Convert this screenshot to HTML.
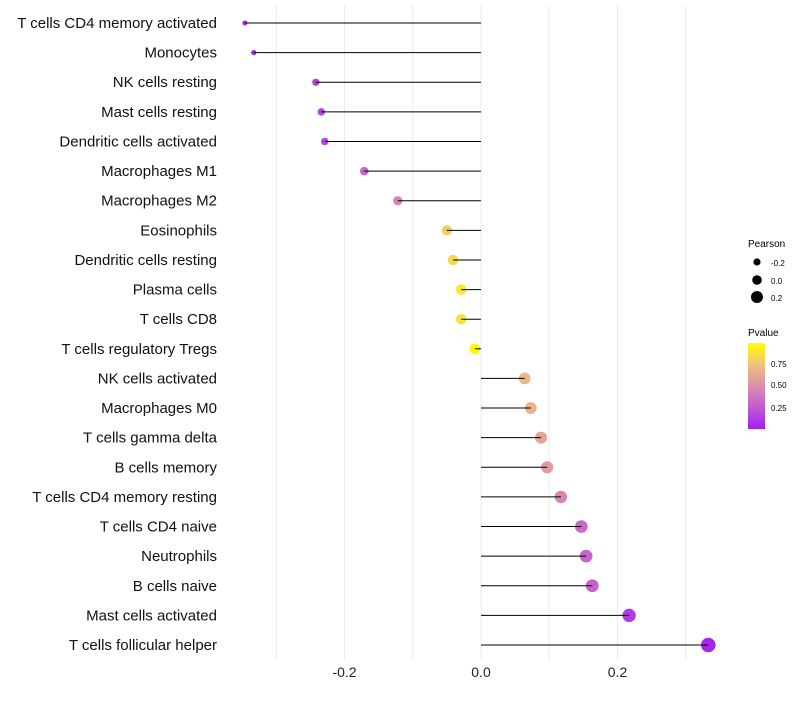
<!DOCTYPE html>
<html><head><meta charset="utf-8"><style>
body{margin:0;background:#fff;font-family:"Liberation Sans",sans-serif}
</style></head><body>
<svg id="chart" width="800" height="700" xmlns="http://www.w3.org/2000/svg" font-family="Liberation Sans, sans-serif">
<g id="grid"></g>
<g id="marks"></g>
<g id="ylabels"></g>
<g id="xlabels"></g>
<g>
<text x="748" y="247" font-size="10">Pearson</text>
<circle cx="757" cy="262" r="3.6" fill="#000"/>
<text x="771" y="266" font-size="8">-0.2</text>
<circle cx="757" cy="280" r="4.8" fill="#000"/>
<text x="771" y="284" font-size="8">0.0</text>
<circle cx="757" cy="297" r="6" fill="#000"/>
<text x="771" y="301" font-size="8">0.2</text>
</g>
<g>
<defs><linearGradient id="pg" x1="0" y1="1" x2="0" y2="0">
<stop offset="0" stop-color="#a020f0"/><stop offset="0.25" stop-color="#c25ad2"/><stop offset="0.5" stop-color="#dc8fab"/><stop offset="0.75" stop-color="#f0c27c"/><stop offset="1" stop-color="#ffff00"/></linearGradient></defs>
<text x="748" y="336" font-size="10">Pvalue</text>
<rect x="748" y="343" width="17" height="86" fill="url(#pg)"/>
<text x="771" y="367" font-size="8">0.75</text>
<text x="771" y="388" font-size="8">0.50</text>
<text x="771" y="411" font-size="8">0.25</text>
</g>
</svg>
<script>
const categories=["T cells CD4 memory activated","Monocytes","NK cells resting","Mast cells resting","Dendritic cells activated","Macrophages M1","Macrophages M2","Eosinophils","Dendritic cells resting","Plasma cells","T cells CD8","T cells regulatory  Tregs ","NK cells activated","Macrophages M0","T cells gamma delta","B cells memory","T cells CD4 memory resting","T cells CD4 naive","Neutrophils","B cells naive","Mast cells activated","T cells follicular helper"];
const pearson=[-0.346,-0.333,-0.242,-0.234,-0.229,-0.171,-0.122,-0.050,-0.041,-0.029,-0.029,-0.009,0.064,0.073,0.088,0.097,0.117,0.147,0.154,0.163,0.217,0.333];
const pvalues=[0.04,0.05,0.14,0.15,0.16,0.3,0.45,0.8,0.85,0.9,0.88,0.98,0.7,0.68,0.6,0.56,0.45,0.32,0.3,0.28,0.12,0.02];
const xTicks=[-0.2,0.0,0.2];
const xTickLabels=["-0.2","0.0","0.2"];
const xMinor=[-0.3,-0.1,0.1,0.3];
const NS="http://www.w3.org/2000/svg";
const x=v=>481+v*682.5;
const y=i=>23+i*(622/21);
const r=v=>Math.max(1.8,Math.sqrt(Math.max(0,30+69*v)));
const stops=[[0,[160,32,240]],[0.25,[194,90,210]],[0.5,[220,143,171]],[0.75,[240,194,124]],[1,[255,255,0]]];
function col(p){for(let k=1;k<stops.length;k++){if(p<=stops[k][0]){const a=stops[k-1],b=stops[k],t=(p-a[0])/(b[0]-a[0]);return "rgb("+a[1].map((c,j)=>Math.round(c+(b[1][j]-c)*t)).join(",")+")";}}return "rgb(255,255,0)";}
function mk(t,attrs,parent){const e=document.createElementNS(NS,t);for(const k in attrs)e.setAttribute(k,attrs[k]);document.getElementById(parent).appendChild(e);return e;}
xTicks.concat(xMinor).forEach(v=>{
const l=mk("line",{x1:x(v),x2:x(v),y1:5,y2:660,stroke:"#ebebeb","stroke-width":1},"grid");


});
xTicks.forEach((v,i)=>{
const t=mk("text",{x:x(v),y:677,"font-size":14,"text-anchor":"middle",fill:"#222"},"xlabels");
t.textContent=xTickLabels[i];


});
categories.forEach((c,i)=>{
const t=mk("text",{x:217,y:y(i)+5,"font-size":15,"text-anchor":"end",fill:"#111"},"ylabels");
t.textContent=c;


const p=mk("circle",{cx:x(pearson[i]),cy:y(i),r:r(pearson[i]),fill:col(pvalues[i])},"marks");


const s=mk("line",{x1:x(0),x2:x(pearson[i]),y1:y(i),y2:y(i),stroke:"#000","stroke-width":1},"marks");


});
</script>
</body></html>
